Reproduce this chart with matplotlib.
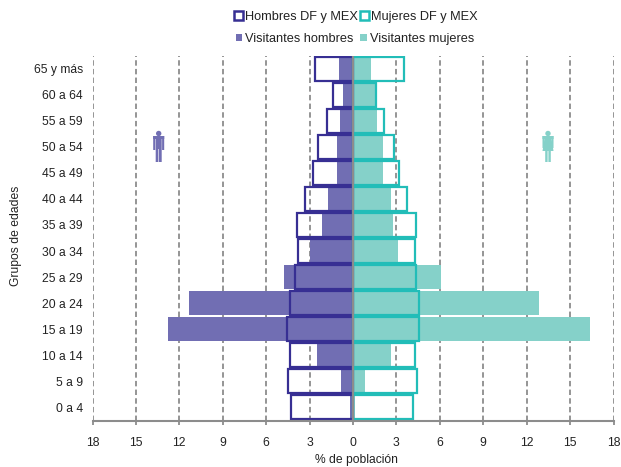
from matplotlib import pyplot as plt
from matplotlib.patches import Circle, Polygon, Rectangle

plt.rcParams['font.family'] = ['Liberation Sans', 'DejaVu Sans']
plt.rcParams['font.size'] = 8.7
plt.rcParams['text.color'] = '#222222'
plt.rcParams['axes.labelcolor'] = '#222222'
plt.rcParams['xtick.labelcolor'] = '#222222'
plt.rcParams['ytick.labelcolor'] = '#222222'

GRUPOS = ['0 a 4', '5 a 9', '10 a 14', '15 a 19', '20 a 24', '25 a 29', '30 a 34',
          '35 a 39', '40 a 44', '45 a 49', '50 a 54', '55 a 59', '60 a 64', '65 y más']
HOMBRES_DF = [4.30, 4.52, 4.37, 4.57, 4.37, 4.00, 3.82, 3.88, 3.33, 2.75, 2.40, 1.78, 1.37, 2.60]
MUJERES_DF = [4.14, 4.42, 4.30, 4.56, 4.56, 4.35, 4.28, 4.32, 3.72, 3.16, 2.82, 2.13, 1.60, 3.50]
VISIT_HOMBRES = [0.22, 0.85, 2.50, 12.80, 11.36, 4.79, 3.00, 2.11, 1.76, 1.08, 1.14, 0.88, 0.67, 0.94]
VISIT_MUJERES = [0.12, 0.80, 2.60, 16.35, 12.83, 6.06, 3.09, 2.73, 2.66, 2.10, 2.04, 1.68, 1.57, 1.27]
TICKS = [-18, -15, -12, -9, -6, -3, 0, 3, 6, 9, 12, 15, 18]

AZUL = '#372f93'
TURQUESA = '#22bdb8'
AZUL_CLARO = '#716eb3'
TURQUESA_CLARO = '#85d1c9'
GRIS = '#8c8c8c'

W, H = 621.0, 467.0


def rect(fig, x, y, rw, rh, color):
    # x, y in pixels from the top left of the figure
    fig.add_artist(Rectangle((x / W, 1 - (y + rh) / H), rw / W, rh / H, snap=False,
                             transform=fig.transFigure, facecolor=color, edgecolor='none'))


def cabeza(fig, cx, cy, color):
    fig.add_artist(Circle((cx, H - cy), 2.7, transform=None, facecolor=color, edgecolor='none'))


def hombre(fig, cx, color):
    cabeza(fig, cx, 133.5, color)
    rect(fig, cx - 5.5, 136, 11, 3, color)
    rect(fig, cx - 5.5, 136, 2.1, 14, color)
    rect(fig, cx + 3.4, 136, 2.1, 14, color)
    rect(fig, cx - 3, 136, 6, 13, color)
    rect(fig, cx - 3, 149, 2.7, 13, color)
    rect(fig, cx + 0.3, 149, 2.7, 13, color)


def mujer(fig, cx, color):
    cabeza(fig, cx, 133.5, color)
    rect(fig, cx - 5.5, 136, 11, 3, color)
    rect(fig, cx - 5.5, 136, 2.1, 12, color)
    rect(fig, cx + 3.4, 136, 2.1, 12, color)
    puntos = [(cx - 3, 136), (cx + 3, 136), (cx + 5.5, 151), (cx - 5.5, 151)]
    fig.add_artist(Polygon([(px / W, 1 - py / H) for px, py in puntos], snap=False,
                           transform=fig.transFigure, facecolor=color, edgecolor='none'))
    rect(fig, cx - 2.8, 151, 2.4, 11, color)
    rect(fig, cx + 0.4, 151, 2.4, 11, color)


fig = plt.figure(figsize=(6.21, 4.67), dpi=100)
ax = fig.add_axes([92.5 / W, 1 - 420.5 / H, 521.0 / W, 365.0 / H])

y = list(range(len(GRUPOS)))
ax.barh(y, [-v for v in VISIT_HOMBRES], height=0.92, color=AZUL_CLARO, zorder=2)
ax.barh(y, VISIT_MUJERES, height=0.92, color=TURQUESA_CLARO, zorder=2)
ax.barh(y, [-v for v in HOMBRES_DF], height=0.92, facecolor='none', edgecolor=AZUL, linewidth=1.6, zorder=3)
ax.barh(y, MUJERES_DF, height=0.92, facecolor='none', edgecolor=TURQUESA, linewidth=1.6, zorder=3)

ax.set_xlim(-18, 18)
ax.set_ylim(-0.5, len(GRUPOS) - 0.5)
ax.set_xticks(TICKS)
ax.set_xticklabels([str(abs(t)) for t in TICKS])
ax.set_yticks(y)
ax.set_yticklabels(GRUPOS)
ax.xaxis.grid(True, color=GRIS, linestyle=(0, (3, 1.8)), linewidth=1.3, zorder=1)
ax.set_axisbelow(True)
ax.axvline(0, color=GRIS, linewidth=1.5, zorder=4)

for lado in ['top', 'right', 'left']:
    ax.spines[lado].set_visible(False)
ax.spines['bottom'].set_color(GRIS)
ax.spines['bottom'].set_linewidth(1.5)
ax.spines['bottom'].set_zorder(5)
ax.tick_params(axis='y', length=0, pad=7)
ax.tick_params(axis='x', length=3, width=1.3, color=GRIS, pad=9)
ax.set_xlabel('% de población')
ax.set_ylabel('Grupos de edades')
ax.xaxis.set_label_coords((356.5 - 92.5) / 521.0, (420.5 - 453.5) / 365.0)
ax.yaxis.set_label_coords((22 - 92.5) / 521.0, (420.5 - 236) / 365.0)

hombre(fig, 158.7, AZUL_CLARO)
mujer(fig, 548, TURQUESA_CLARO)

fila1 = [Rectangle((0, 0), 1, 1, facecolor='white', edgecolor=AZUL, linewidth=1.8),
         Rectangle((0, 0), 1, 1, facecolor='white', edgecolor=TURQUESA, linewidth=1.8)]
fila2 = [Rectangle((0, 0), 1, 1, facecolor=AZUL_CLARO, edgecolor='none'),
         Rectangle((0, 0), 1, 1, facecolor=TURQUESA_CLARO, edgecolor='none')]
opciones = dict(ncol=2, loc='center left', frameon=False, borderpad=0, borderaxespad=0, fontsize=9.2)
fig.legend(fila1, ['Hombres DF y MEX', 'Mujeres DF y MEX'], bbox_to_anchor=(234 / W, 1 - 17 / H),
           handlelength=0.7, handleheight=0.7, handletextpad=0.16, columnspacing=0.2, **opciones)
fig.legend(fila2, ['Visitantes hombres', 'Visitantes mujeres'], bbox_to_anchor=(235.5 / W, 1 - 39 / H),
           handlelength=0.5, handleheight=0.5, handletextpad=0.28, columnspacing=0.5, **opciones)

plt.savefig('out.png', dpi=100)
